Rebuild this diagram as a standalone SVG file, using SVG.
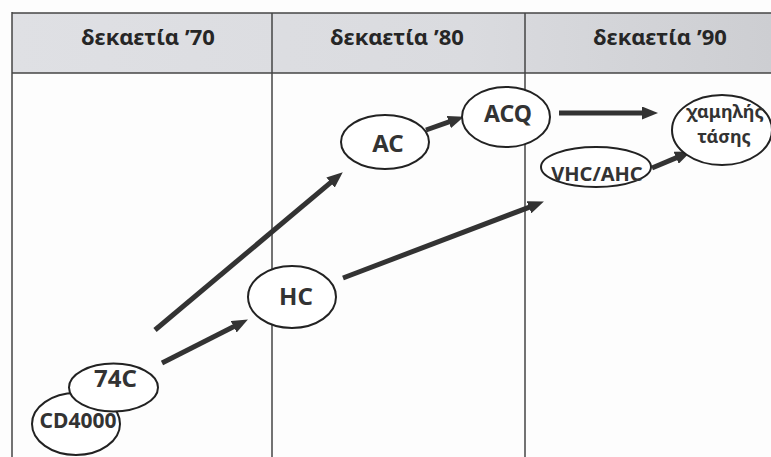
<svg xmlns="http://www.w3.org/2000/svg" width="771" height="457" viewBox="0 0 771 457">
<defs>
<linearGradient id="hdr" x1="0" y1="0" x2="1" y2="0">
<stop offset="0" stop-color="#dfe0e4"/>
<stop offset="0.6" stop-color="#dadbdf"/>
<stop offset="1" stop-color="#cdced2"/>
</linearGradient>
<marker id="ah" markerUnits="userSpaceOnUse" markerWidth="16" markerHeight="13" refX="7" refY="6.5" orient="auto">
<path d="M0,0 L16,6.5 L0,13 z" fill="#333"/>
</marker>
<style>
.hd{font-family:"Noto Sans","DejaVu Sans",sans-serif;font-weight:bold;font-size:22px;fill:#262626;text-anchor:middle}
.nd ellipse{fill:#fff;stroke:#222;stroke-width:2}
.nd text{font-family:"Noto Sans","DejaVu Sans",sans-serif;font-weight:bold;fill:#333;text-anchor:middle}
.ln{stroke:#444;stroke-width:1.5;fill:none}
.ar{stroke:#333;stroke-width:5;fill:none;marker-end:url(#ah)}
</style>
</defs>
<rect width="771" height="457" fill="#fdfdfd"/>
<g id="table">
<rect x="12" y="13" width="759" height="60" fill="url(#hdr)"/>
<line class="ln" x1="12" y1="13" x2="771" y2="13" stroke-width="3"/>
<line class="ln" x1="12" y1="73" x2="771" y2="73" stroke-width="2"/>
<line class="ln" x1="12" y1="12" x2="12" y2="457" stroke-width="2"/>
<line class="ln" x1="272" y1="13" x2="272" y2="457"/>
<line class="ln" x1="525" y1="13" x2="525" y2="457"/>
<text class="hd" x="148" y="45">δεκαετία ’70</text>
<text class="hd" x="397" y="45">δεκαετία ’80</text>
<text class="hd" x="660" y="45">δεκαετία ’90</text>
</g>
<g id="connectors">
<line class="ar" x1="162" y1="363" x2="239.9" y2="323.6"/>
<line class="ar" x1="155" y1="330" x2="335.9" y2="178.1"/>
<line class="ar" x1="426" y1="130" x2="455.4" y2="119.7"/>
<line class="ar" x1="343" y1="278" x2="535.5" y2="204.8"/>
<line class="ar" x1="559" y1="113" x2="649" y2="113"/>
<line class="ar" x1="652" y1="168" x2="682.6" y2="155.1"/>
</g>
<g id="n-cd4000" class="nd">
<ellipse cx="76" cy="424" rx="44" ry="31"/>
<text x="78" y="428" font-size="21">CD4000</text>
</g>
<g id="n-74c" class="nd">
<ellipse cx="113.5" cy="387.5" rx="44.5" ry="24"/>
<text x="115.5" y="387" font-size="24">74C</text>
</g>
<g id="n-hc" class="nd">
<ellipse cx="292" cy="297" rx="44" ry="31"/>
<text x="296" y="305" font-size="24">HC</text>
</g>
<g id="n-ac" class="nd">
<ellipse cx="385" cy="142" rx="44" ry="27"/>
<text x="388" y="152" font-size="24">AC</text>
</g>
<g id="n-acq" class="nd">
<ellipse cx="506" cy="117" rx="44" ry="30"/>
<text x="508" y="122" font-size="23">ACQ</text>
</g>
<g id="n-vhc" class="nd">
<ellipse cx="596" cy="167" rx="55" ry="20"/>
<text x="597" y="181" font-size="20">VHC/AHC</text>
</g>
<g id="n-low" class="nd">
<ellipse cx="722" cy="130" rx="50" ry="35"/>
<text x="725" y="118" font-size="18">χαμηλής</text>
<text x="724" y="143" font-size="18">τάσης</text>
</g>
</svg>
